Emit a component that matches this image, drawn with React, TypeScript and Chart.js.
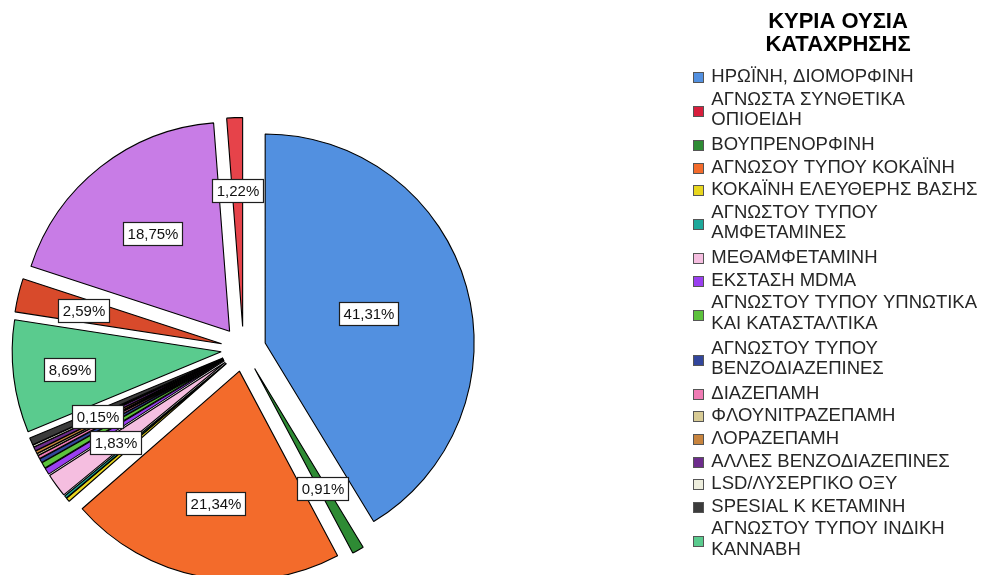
import React, { useEffect, useRef } from 'react';
import { Chart, registerables } from 'chart.js';

Chart.register(...registerables);

// Categories in drawing order (clockwise from 12 o'clock). The last three
// slices belong to categories whose legend entries are cut off in the source.
const categories: (string | string[])[] = [
  'ΗΡΩΪΝΗ, ΔΙΟΜΟΡΦΙΝΗ',
  ['ΑΓΝΩΣΤΑ ΣΥΝΘΕΤΙΚΑ', 'ΟΠΙΟΕΙΔΗ'],
  'ΒΟΥΠΡΕΝΟΡΦΙΝΗ',
  'ΑΓΝΩΣΟΥ ΤΥΠΟΥ ΚΟΚΑΪΝΗ',
  'ΚΟΚΑΪΝΗ ΕΛΕΥΘΕΡΗΣ ΒΑΣΗΣ',
  ['ΑΓΝΩΣΤΟΥ ΤΥΠΟΥ', 'ΑΜΦΕΤΑΜΙΝΕΣ'],
  'ΜΕΘΑΜΦΕΤΑΜΙΝΗ',
  'ΕΚΣΤΑΣΗ MDMA',
  ['ΑΓΝΩΣΤΟΥ ΤΥΠΟΥ ΥΠΝΩΤΙΚΑ', 'ΚΑΙ ΚΑΤΑΣΤΑΛΤΙΚΑ'],
  ['ΑΓΝΩΣΤΟΥ ΤΥΠΟΥ', 'ΒΕΝΖΟΔΙΑΖΕΠΙΝΕΣ'],
  'ΔΙΑΖΕΠΑΜΗ',
  'ΦΛΟΥΝΙΤΡΑΖΕΠΑΜΗ',
  'ΛΟΡΑΖΕΠΑΜΗ',
  'ΑΛΛΕΣ ΒΕΝΖΟΔΙΑΖΕΠΙΝΕΣ',
  'LSD/ΛΥΣΕΡΓΙΚΟ ΟΞΥ',
  'SPESIAL K ΚΕΤΑΜΙΝΗ',
  ['ΑΓΝΩΣΤΟΥ ΤΥΠΟΥ ΙΝΔΙΚΗ', 'ΚΑΝΝΑΒΗ'],
  '',
  '',
  '',
];

// Percentages
const values: number[] = [
  41.31, 0, 0.91, 21.34, 0.3, 0.2, 1.83, 0.5, 0.45, 0.3, 0.25, 0.15, 0.2, 0.3,
  0.15, 0.56, 8.69, 2.59, 18.75, 1.22,
];

const colors: string[] = [
  '#5290E0', '#D81E3C', '#2E8B34', '#F36B2B', '#E8D61E', '#1DA89A', '#F5BEE0',
  '#9A3FF0', '#5CC23C', '#32469C', '#F07BB4', '#D8CB95', '#C8843E', '#6D2C8C',
  '#EEEEDD', '#3B3B3B', '#5ACB8E', '#D84A2B', '#C87CE6', '#E6434A',
];

// Which slices carry a percentage label, and how far out (fraction of radius)
const labelRadius: (number | null)[] = [
  0.515, null, 0.66, 0.645, null, null, 0.65, null, null, null, null, null,
  null, null, 0.66, null, 0.73, 0.68, 0.595, 0.65,
];

const legendTitle: string[] = ['ΚΥΡΙΑ ΟΥΣΙΑ', 'ΚΑΤΑΧΡΗΣΗΣ'];

const FONT = '"Liberation Sans", Arial, sans-serif';
const EXPLODE = 22.5;

const fmtPct = (v: number) => v.toFixed(2).replace('.', ',') + '%';

const explodePlugin = {
  id: 'explodeSlices',
  beforeDatasetDraw(chart: any, args: any) {
    const ctx = chart.ctx;
    args.meta.data.forEach((arc: any) => {
      const { startAngle, endAngle } = arc.getProps(['startAngle', 'endAngle'], true);
      const mid = (startAngle + endAngle) / 2;
      ctx.save();
      ctx.translate(Math.cos(mid) * EXPLODE, Math.sin(mid) * EXPLODE);
      arc.draw(ctx);
      ctx.restore();
    });
    return false;
  },
};

const sliceLabelPlugin = {
  id: 'sliceLabels',
  afterDatasetsDraw(chart: any) {
    const ctx = chart.ctx;
    const meta = chart.getDatasetMeta(0);
    ctx.save();
    ctx.font = `15px ${FONT}`;
    ctx.textAlign = 'center';
    ctx.textBaseline = 'middle';
    meta.data.forEach((arc: any, i: number) => {
      const f = labelRadius[i];
      if (f == null) return;
      const { x, y, startAngle, endAngle, outerRadius } = arc.getProps(
        ['x', 'y', 'startAngle', 'endAngle', 'outerRadius'],
        true
      );
      const mid = (startAngle + endAngle) / 2;
      const d = EXPLODE + outerRadius * f;
      const px = x + Math.cos(mid) * d;
      const py = y + Math.sin(mid) * d;
      const text = fmtPct(values[i]);
      const w = Math.round(ctx.measureText(text).width + 8);
      const h = 23;
      const bx = Math.round(px - w / 2) + 0.5;
      const by = Math.round(py - h / 2) + 0.5;
      ctx.fillStyle = '#ffffff';
      ctx.fillRect(bx, by, w, h);
      ctx.strokeStyle = '#1e1e1e';
      ctx.lineWidth = 1.2;
      ctx.strokeRect(bx, by, w, h);
      ctx.fillStyle = '#111111';
      ctx.fillText(text, bx + w / 2, by + h / 2 + 0.5);
    });
    ctx.restore();
  },
};

const legendBoxPlugin = {
  id: 'legendBoxes',
  afterDraw(chart: any) {
    const legend = chart.legend;
    if (!legend || !legend.legendHitBoxes) return;
    const ctx = chart.ctx;
    ctx.save();
    legend.legendItems.forEach((item: any, k: number) => {
      const hb = legend.legendHitBoxes[k];
      if (!hb) return;
      const s = 10;
      const bx = Math.round(hb.left) + 0.5;
      const by = Math.round(hb.top + hb.height / 2 - s / 2) + 0.5;
      ctx.fillStyle = colors[item.index];
      ctx.fillRect(bx, by, s, s);
      ctx.strokeStyle = '#555555';
      ctx.lineWidth = 1;
      ctx.strokeRect(bx, by, s, s);
    });
    ctx.restore();
  },
};

const CANVAS_W = 1189;
const CANVAS_H = 698;

export default function App() {
  const ref = useRef<HTMLCanvasElement>(null);

  useEffect(() => {
    const canvas = ref.current;
    if (!canvas) return;
    const chart = new Chart(canvas, {
      type: 'pie',
      data: {
        labels: categories as any,
        datasets: [
          {
            data: values,
            backgroundColor: colors,
            borderColor: '#000000',
            borderWidth: 1.1,
            radius: 209,
          } as any,
        ],
      },
      options: {
        responsive: false,
        animation: false,
        events: [],
        layout: { padding: 0 },
        plugins: {
          tooltip: { enabled: false },
          legend: {
            display: true,
            position: 'right',
            align: 'start',
            maxWidth: 298,
            title: {
              display: true,
              text: legendTitle as any,
              color: '#000000',
              font: { family: FONT, size: 22, weight: 'bold', lineHeight: 23 / 22 },
              padding: { top: 11, bottom: 29.65 } as any,
            },
            labels: {
              boxWidth: 9,
              padding: 4.1,
              color: '#262626',
              font: { family: FONT, size: 18.5, lineHeight: 20.6 / 18.5 },
              generateLabels: () =>
                categories.map((c, i) => ({
                  text: c as any,
                  fillStyle: 'rgba(0,0,0,0)',
                  strokeStyle: 'rgba(0,0,0,0)',
                  lineWidth: 0,
                  hidden: false,
                  index: i,
                  fontColor: '#262626',
                })),
              filter: (item: any) =>
                Array.isArray(item.text) ? item.text.length > 0 : item.text !== '',
            },
          },
        },
      },
      plugins: [explodePlugin, sliceLabelPlugin, legendBoxPlugin],
    });
    return () => chart.destroy();
  }, []);

  return (
    <div
      style={{
        position: 'fixed',
        left: 0,
        top: 0,
        width: 987,
        height: 575,
        overflow: 'hidden',
        background: '#ffffff',
      }}
    >
      <canvas
        ref={ref}
        width={CANVAS_W}
        height={CANVAS_H}
        style={{ position: 'absolute', left: -202, top: 0, width: CANVAS_W, height: CANVAS_H }}
      />
    </div>
  );
}
